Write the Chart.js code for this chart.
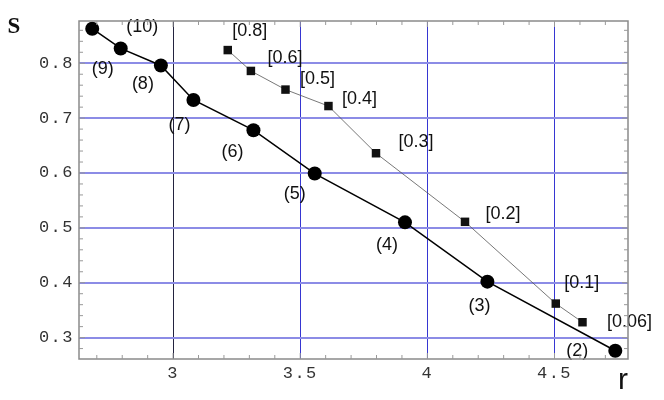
<!DOCTYPE html>
<html>
<head>
<meta charset="utf-8">
<script src="https://cdn.jsdelivr.net/npm/chart.js@4.4.1/dist/chart.umd.min.js"></script>
<style>
  html, body { margin: 0; padding: 0; background: #fff; }
  #wrap { width: 664px; height: 400px; }
</style>
</head>
<body>
<div id="wrap"><canvas id="chart" width="664" height="400"></canvas></div>
<script>
// ---- data ----
const circleR = [2.682, 2.794, 2.952, 3.080, 3.316, 3.557, 3.912, 4.236, 4.739];
const circleS = [0.863, 0.827, 0.796, 0.733, 0.678, 0.599, 0.510, 0.402, 0.276];
const circleLabels = ['(10)', '(9)', '(8)', '(7)', '(6)', '(5)', '(4)', '(3)', '(2)'];

const squareR = [3.215, 3.306, 3.442, 3.611, 3.798, 4.148, 4.505, 4.610];
const squareS = [0.824, 0.786, 0.752, 0.722, 0.636, 0.511, 0.362, 0.328];
const squareLabels = ['[0.8]', '[0.6]', '[0.5]', '[0.4]', '[0.3]', '[0.2]', '[0.1]', '[0.06]'];

const xTicks = [3, 3.5, 4, 4.5];
const yTicks = [0.3, 0.4, 0.5, 0.6, 0.7, 0.8];

// ---- label placement (pixel offsets from each marker) ----
const circleLabelOffsets = [[50, -2], [-18, 21], [-18, 19], [-14, 25], [-21, 22], [-20, 20], [-18, 23], [-8, 24], [-38, 0]];
const squareLabelOffsets = [[22, -19], [34, -13], [32, -11], [31, -7], [40, -11], [38, -8], [26, -21], [47, 0]];

const toPoints = (xs, ys) => xs.map((x, i) => ({ x: x, y: ys[i] }));

// spaced-out mono tick labels, like the original
const spacingPlugin = {
    id: 'tickSpacing',
    beforeDraw(chart) { chart.ctx.letterSpacing = '1.5px'; },
    afterDatasetsDraw(chart) { chart.ctx.letterSpacing = '0px'; }
};

// point labels
const labelPlugin = {
    id: 'pointLabels',
    afterDatasetsDraw(chart) {
        const ctx = chart.ctx;
        const sets = [[circleLabels, circleLabelOffsets], [squareLabels, squareLabelOffsets]];
        ctx.save();
        ctx.letterSpacing = '0px';
        ctx.font = '18px "Liberation Sans", Arial, sans-serif';
        ctx.fillStyle = '#111';
        ctx.textAlign = 'center';
        ctx.textBaseline = 'middle';
        sets.forEach(([labels, offs], d) => {
            chart.getDatasetMeta(d).data.forEach((pt, i) => {
                ctx.fillText(labels[i], pt.x + offs[i][0], pt.y + offs[i][1]);
            });
        });
        ctx.restore();
    }
};

// frame + inward minor ticks
const framePlugin = {
    id: 'frame',
    afterDraw(chart) {
        const ctx = chart.ctx;
        const a = chart.chartArea;
        const xs = chart.scales.x, ys = chart.scales.y;
        ctx.save();
        ctx.letterSpacing = '0px';
        ctx.strokeStyle = '#8a8a8a';
        ctx.lineWidth = 1.5;
        ctx.strokeRect(a.left, a.top, a.right - a.left, a.bottom - a.top);
        ctx.lineWidth = 1;
        ctx.strokeStyle = '#999';
        ctx.beginPath();
        for (let k = 27; k <= 47; k++) {
            const px = xs.getPixelForValue(k / 10);
            const len = (k % 5 === 0) ? 6 : 4;
            ctx.moveTo(px, a.bottom); ctx.lineTo(px, a.bottom - len);
            ctx.moveTo(px, a.top); ctx.lineTo(px, a.top + len);
        }
        for (let k = 14; k <= 43; k++) {
            const py = ys.getPixelForValue(k / 50);
            const len = (k % 5 === 0) ? 6 : 4;
            ctx.moveTo(a.left, py); ctx.lineTo(a.left + len, py);
            ctx.moveTo(a.right, py); ctx.lineTo(a.right - len, py);
        }
        ctx.stroke();

        // axis titles
        ctx.fillStyle = '#111';
        ctx.textAlign = 'center';
        ctx.textBaseline = 'middle';
        ctx.font = 'bold 23px "Liberation Serif", "Times New Roman", serif';
        ctx.fillText('S', 14, 27);
        ctx.font = '30px "Liberation Sans", Arial, sans-serif';
        ctx.fillText('r', 623, 381);
        ctx.restore();
    }
};

new Chart(document.getElementById('chart'), {
    type: 'scatter',
    data: {
        datasets: [{
            data: toPoints(circleR, circleS),
            showLine: true,
            borderColor: '#000',
            borderWidth: 1.5,
            pointStyle: 'circle',
            pointRadius: 7,
            pointBackgroundColor: '#000',
            pointBorderColor: '#000',
            pointBorderWidth: 0
        }, {
            data: toPoints(squareR, squareS),
            showLine: true,
            borderColor: '#555',
            borderWidth: 0.8,
            pointStyle: 'rect',
            pointRadius: 6,
            pointBackgroundColor: '#111',
            pointBorderColor: '#111',
            pointBorderWidth: 0
        }]
    },
    options: {
        responsive: false,
        animation: false,
        layout: { padding: { top: 21, right: 36, left: 0, bottom: 0 } },
        plugins: {
            legend: { display: false },
            tooltip: { enabled: false }
        },
        scales: {
            x: {
                type: 'linear',
                min: 2.63,
                max: 4.789,
                afterBuildTicks: (scale) => { scale.ticks = xTicks.map(v => ({ value: v })); },
                afterFit: (scale) => { scale.height = 41; },
                grid: {
                    color: (c) => c.tick && c.tick.value === 3 ? '#23233f' : '#3636d2',
                    lineWidth: 1,
                    drawTicks: false
                },
                border: { display: false },
                ticks: {
                    padding: 4,
                    color: '#333',
                    font: { family: '"Liberation Mono", "Courier New", monospace', size: 17 },
                    callback: (v) => String(v)
                }
            },
            y: {
                type: 'linear',
                min: 0.261,
                max: 0.877,
                afterBuildTicks: (scale) => { scale.ticks = yTicks.map(v => ({ value: v })); },
                afterFit: (scale) => { scale.width = 79; },
                grid: {
                    color: '#8c8ce6',
                    lineWidth: 2,
                    drawTicks: false
                },
                border: { display: false },
                ticks: {
                    padding: 5,
                    color: '#333',
                    font: { family: '"Liberation Mono", "Courier New", monospace', size: 17 },
                    callback: (v) => v.toFixed(1)
                }
            }
        }
    },
    plugins: [spacingPlugin, labelPlugin, framePlugin]
});
</script>
</body>
</html>
